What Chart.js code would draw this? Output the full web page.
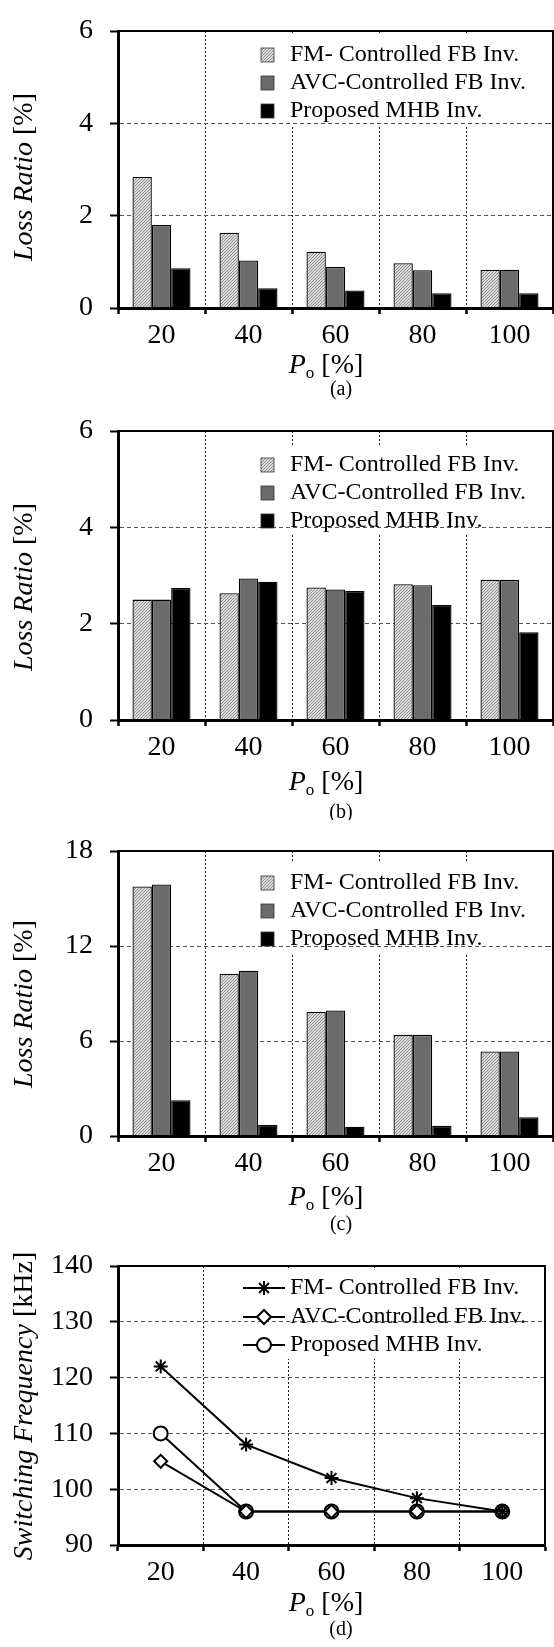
<!DOCTYPE html>
<html>
<head>
<meta charset="utf-8">
<script src="https://cdn.jsdelivr.net/npm/chart.js@4.4.0/dist/chart.umd.min.js"></script>
<style>
  html, body { margin: 0; padding: 0; background: #fff; }
  body { width: 554px; height: 1647px; position: relative; overflow: hidden; }
  .panel { position: absolute; left: 0; width: 554px; }
  .panel canvas { display: block; }
</style>
</head>
<body>
<div class="panel" style="top:0px"><canvas id="chartA" width="554" height="400"></canvas></div>
<div class="panel" style="top:400px"><canvas id="chartB" width="554" height="420"></canvas></div>
<div class="panel" style="top:820px"><canvas id="chartC" width="554" height="415"></canvas></div>
<div class="panel" style="top:1235px"><canvas id="chartD" width="554" height="412"></canvas></div>
<script>
// -----------------------------
// Data
// -----------------------------
const loadLevels = ['20', '40', '60', '80', '100'];
const seriesNames = ['FM- Controlled FB Inv.', 'AVC-Controlled FB Inv.', 'Proposed MHB Inv.'];

// (a) loss ratio [%]
const lossA_FM  = [2.84, 1.63, 1.22, 0.97, 0.83];
const lossA_AVC = [1.80, 1.03, 0.89, 0.82, 0.83];
const lossA_MHB = [0.86, 0.43, 0.38, 0.32, 0.32];

// (b) loss ratio [%]
const lossB_FM  = [2.50, 2.63, 2.75, 2.82, 2.91];
const lossB_AVC = [2.50, 2.94, 2.71, 2.80, 2.91];
const lossB_MHB = [2.74, 2.87, 2.68, 2.39, 1.82];

// (c) loss ratio [%]
const lossC_FM  = [15.76, 10.25, 7.83, 6.39, 5.34];
const lossC_AVC = [15.88, 10.44, 7.93, 6.39, 5.34];
const lossC_MHB = [2.26, 0.70, 0.58, 0.64, 1.19];

// (d) switching frequency [kHz]
const freqFM  = [122, 108, 102, 98.4, 96];
const freqAVC = [105, 96, 96, 96, 96];
const freqMHB = [110, 96, 96, 96, 96];

// y tick values
const lossTicksAB = [0, 2, 4, 6];
const lossTicksC  = [0, 6, 12, 18];
const freqTicks   = [90, 100, 110, 120, 130, 140];

const FONT = "'Liberation Serif', 'Times New Roman', serif";

// -----------------------------
// Helpers
// -----------------------------
function makeHatch() {
    const c = document.createElement('canvas');
    c.width = 3; c.height = 3;
    const g = c.getContext('2d');
    g.fillStyle = '#dadada';
    g.fillRect(0, 0, 3, 3);
    g.strokeStyle = '#888';
    g.lineWidth = 0.9;
    g.beginPath();
    g.moveTo(0, 3); g.lineTo(3, 0);
    g.moveTo(-1, 1); g.lineTo(1, -1);
    g.moveTo(2, 4); g.lineTo(4, 2);
    g.stroke();
    return g.createPattern(c, 'repeat');
}
const hatch = makeHatch();

function drawRich(ctx, parts, cx, cy) {
    let w = 0;
    parts.forEach(p => { ctx.font = p[1]; w += ctx.measureText(p[0]).width; });
    let x = cx - w / 2;
    ctx.textAlign = 'left';
    ctx.textBaseline = 'middle';
    parts.forEach(p => {
        ctx.font = p[1];
        ctx.fillText(p[0], x, cy + (p[2] || 0));
        x += ctx.measureText(p[0]).width;
    });
}

function drawMarker(ctx, style, x, y) {
    ctx.beginPath();
    if (style === 'star') {
        const r = 7, d = r * Math.SQRT1_2;
        ctx.moveTo(x, y - r); ctx.lineTo(x, y + r);
        ctx.moveTo(x - r, y); ctx.lineTo(x + r, y);
        ctx.moveTo(x - d, y - d); ctx.lineTo(x + d, y + d);
        ctx.moveTo(x - d, y + d); ctx.lineTo(x + d, y - d);
        ctx.stroke();
        return;
    }
    if (style === 'rectRot') {
        const r = 7;
        ctx.moveTo(x - r, y); ctx.lineTo(x, y - r); ctx.lineTo(x + r, y); ctx.lineTo(x, y + r);
        ctx.closePath();
    } else {
        ctx.arc(x, y, 7, 0, Math.PI * 2);
    }
    ctx.fill();
    ctx.stroke();
}

// -----------------------------
// Plugin: frame, inside legend, axis titles, caption
// -----------------------------
const decorPlugin = {
    id: 'decor',
    afterDatasetsDraw(chart, args, o) {
        const {ctx, chartArea: a} = chart;
        const lg = o.legend;
        ctx.save();

        // legend background
        const boxTop = lg.rows[0] - 20;
        const boxBottom = lg.rows[2] + 14;
        ctx.fillStyle = '#fff';
        ctx.fillRect(lg.boxLeft, boxTop, lg.boxRight - lg.boxLeft, boxBottom - boxTop);

        // the dashed grid line crossing the legend stays visible
        const gy = chart.scales.y.getPixelForValue(lg.gridValue);
        const py = Math.round(gy - 0.5) + 0.5;
        ctx.save();
        ctx.beginPath();
        ctx.rect(lg.boxLeft, boxTop, lg.boxRight - lg.boxLeft, boxBottom - boxTop);
        ctx.clip();
        ctx.strokeStyle = '#555';
        ctx.lineWidth = 1;
        ctx.setLineDash([4, 3]);
        ctx.beginPath();
        ctx.moveTo(a.left, py); ctx.lineTo(a.right, py);
        ctx.stroke();
        ctx.restore();

        chart.data.datasets.forEach((ds, i) => {
            const y = lg.rows[i];
            if (o.kind === 'bar') {
                ctx.fillStyle = ds.backgroundColor;
                ctx.fillRect(261, y - 7, 13, 14);
                ctx.strokeStyle = '#333';
                ctx.lineWidth = 0.8;
                ctx.strokeRect(261, y - 7, 13, 14);
            } else {
                ctx.strokeStyle = '#000';
                ctx.lineWidth = 2;
                ctx.beginPath();
                ctx.moveTo(243, y); ctx.lineTo(285, y);
                ctx.stroke();
                ctx.fillStyle = '#fff';
                drawMarker(ctx, ds.pointStyle, 264, y);
            }
            ctx.fillStyle = '#000';
            ctx.font = `24px ${FONT}`;
            ctx.textAlign = 'left';
            ctx.textBaseline = 'middle';
            ctx.fillText(ds.label, lg.textX, y);
        });

        // top and right frame
        ctx.strokeStyle = '#000';
        ctx.lineWidth = 2;
        ctx.beginPath();
        ctx.moveTo(a.left, a.top);
        ctx.lineTo(a.right, a.top);
        ctx.lineTo(a.right, a.bottom);
        ctx.stroke();
        ctx.restore();
    },
    afterDraw(chart, args, o) {
        const {ctx} = chart;
        ctx.save();
        ctx.fillStyle = '#000';
        // y title (rotated)
        ctx.translate(25, o.yTitleY);
        ctx.rotate(-Math.PI / 2);
        drawRich(ctx, o.yTitle, 0, 0);
        ctx.setTransform(1, 0, 0, 1, 0, 0);
        // x title: P_o [%]
        drawRich(ctx, [
            ['P', `italic 28px ${FONT}`],
            ['o', `17px ${FONT}`, 8],
            [' [%]', `28px ${FONT}`]
        ], 326, o.xTitleY);
        // caption
        drawRich(ctx, [[o.caption, `20px ${FONT}`]], 341, o.captionY);
        ctx.restore();
    }
};

function xScale(height) {
    return {
        type: 'category',
        offset: true,
        grid: {
            offset: true,
            color: ctx => (ctx.index === 0 || ctx.index === loadLevels.length) ? 'rgba(0,0,0,0)' : '#222',
            lineWidth: 1,
            tickLength: 6,
            tickWidth: 2.5,
            tickColor: '#000'
        },
        border: {color: '#000', width: 3, dash: [2, 2], z: 1},
        ticks: {
            color: '#000',
            font: {family: FONT, size: 28, lineHeight: 1},
            padding: 8,
            maxRotation: 0,
            autoSkip: false
        },
        afterFit: s => { s.height = height; }
    };
}

function yScale(tickVals) {
    const min = tickVals[0];
    const max = tickVals[tickVals.length - 1];
    return {
        min: min,
        max: max,
        ticks: {
            stepSize: tickVals[1] - tickVals[0],
            color: '#000',
            font: {family: FONT, size: 28, lineHeight: 1},
            padding: 17
        },
        grid: {
            color: ctx => (ctx.tick && (ctx.tick.value === min || ctx.tick.value === max)) ? 'rgba(0,0,0,0)' : '#555',
            lineWidth: 1,
            tickLength: 8,
            tickWidth: 2,
            tickColor: '#000'
        },
        border: {color: '#000', width: 3, dash: [4, 3], z: 1},
        afterFit: s => { s.width = 118; }
    };
}

function barChart(id, fm, avc, mhb, tickVals, p) {
    const canvas = document.getElementById(id);
    const fills = [hatch, '#6b6b6b', '#000'];
    const values = [fm, avc, mhb];
    return new Chart(canvas, {
        type: 'bar',
        data: {
            labels: loadLevels,
            datasets: seriesNames.map((name, i) => ({
                label: name,
                data: values[i],
                backgroundColor: fills[i],
                borderColor: '#000',
                borderWidth: 1.3,
                categoryPercentage: 0.667,
                barPercentage: 1.0
            }))
        },
        options: {
            responsive: false,
            animation: false,
            layout: {padding: {left: 0, right: 1, top: p.areaTop, bottom: 0}},
            plugins: {
                legend: {display: false},
                tooltip: {enabled: false},
                decor: {
                    kind: 'bar',
                    legend: {rows: p.rows, boxLeft: 252, boxRight: 548, textX: 290, gridValue: p.gridValue},
                    yTitle: [['Loss Ratio', `italic 28px ${FONT}`], [' [%]', `28px ${FONT}`]],
                    yTitleY: p.yTitleY,
                    xTitleY: p.xTitleY,
                    caption: p.caption,
                    captionY: p.captionY
                }
            },
            scales: {
                x: xScale(p.height - p.areaBottom),
                y: yScale(tickVals)
            }
        },
        plugins: [decorPlugin]
    });
}

// -----------------------------
// Charts (a), (b), (c)
// -----------------------------
barChart('chartA', lossA_FM, lossA_AVC, lossA_MHB, lossTicksAB, {
    height: 400, areaTop: 16, areaBottom: 308, rows: [55, 83, 111], gridValue: 4,
    yTitleY: 177, xTitleY: 366, caption: '(a)', captionY: 390
});
barChart('chartB', lossB_FM, lossB_AVC, lossB_MHB, lossTicksAB, {
    height: 420, areaTop: 26, areaBottom: 320, rows: [65, 93, 121], gridValue: 4,
    yTitleY: 187, xTitleY: 383, caption: '(b)', captionY: 413
});
barChart('chartC', lossC_FM, lossC_AVC, lossC_MHB, lossTicksC, {
    height: 415, areaTop: 24, areaBottom: 316, rows: [63, 91, 119], gridValue: 12,
    yTitleY: 184, xTitleY: 378, caption: '(c)', captionY: 405
});

// -----------------------------
// Chart (d): switching frequency
// -----------------------------
const freqValues = [freqFM, freqAVC, freqMHB];
const freqStyles = ['star', 'rectRot', 'circle'];
const freqRadius = [7, 6.5, 7];
new Chart(document.getElementById('chartD'), {
    type: 'line',
    data: {
        labels: loadLevels,
        datasets: seriesNames.map((name, i) => ({
            label: name,
            data: freqValues[i],
            borderColor: '#000',
            borderWidth: 2,
            backgroundColor: '#fff',
            pointStyle: freqStyles[i],
            pointRadius: freqRadius[i],
            pointBackgroundColor: '#fff',
            pointBorderColor: '#000',
            pointBorderWidth: 2,
            tension: 0,
            fill: false
        }))
    },
    options: {
        responsive: false,
        animation: false,
        layout: {padding: {left: 0, right: 1, top: 19, bottom: 0}},
        plugins: {
            legend: {display: false},
            tooltip: {enabled: false},
            decor: {
                kind: 'line',
                legend: {rows: [53, 82, 110], boxLeft: 238, boxRight: 548, textX: 290, gridValue: 130},
                yTitle: [['Switching Frequency', `italic 28px ${FONT}`], [' [kHz]', `28px ${FONT}`]],
                yTitleY: 171,
                xTitleY: 369,
                caption: '(d)',
                captionY: 395
            }
        },
        scales: {
            x: xScale(412 - 310),
            y: yScale(freqTicks)
        }
    },
    plugins: [decorPlugin]
});
</script>
</body>
</html>
